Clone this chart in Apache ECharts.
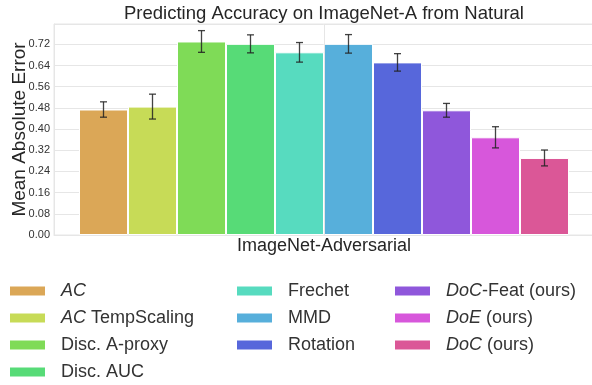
<!DOCTYPE html>
<html>
<head>
<meta charset="utf-8">
<script src="https://cdn.jsdelivr.net/npm/echarts@6/dist/echarts.min.js"></script>
<style>
  html, body { margin: 0; padding: 0; background: #ffffff; }
  #chart { width: 592px; height: 385px; }
</style>
</head>
<body>
<div id="chart"></div>
<script>
// Mean absolute error of each accuracy predictor on ImageNet-A (trained on natural images)
const category = ['ImageNet-Adversarial'];
const methods = ['AC', 'AC TempScaling', 'Disc. A-proxy', 'Disc. AUC', 'Frechet',
                 'MMD', 'Rotation', 'DoC-Feat (ours)', 'DoE (ours)', 'DoC (ours)'];
const meanError = [0.474, 0.485, 0.731, 0.722, 0.690, 0.722, 0.652, 0.471, 0.369, 0.291];
const errorSpread = [0.029, 0.047, 0.041, 0.034, 0.037, 0.035, 0.033, 0.026, 0.040, 0.030];
const colors = ['#dba757', '#c7db57', '#7fdb57', '#57db77', '#57dbbf',
                '#57afdb', '#5767db', '#8f57db', '#d757db', '#db5797'];
const yTicks = [0.00, 0.08, 0.16, 0.24, 0.32, 0.40, 0.48, 0.56, 0.64, 0.72];

// legend labels with the italic method names
const legendLabels = {
  'AC': '{i|AC}',
  'AC TempScaling': '{i|AC} TempScaling',
  'DoC-Feat (ours)': '{i|DoC}-Feat (ours)',
  'DoE (ours)': '{i|DoE} (ours)',
  'DoC (ours)': '{i|DoC} (ours)'
};

const FONT = '"Liberation Sans", Arial, sans-serif';
const BAR_W = 49;
const GRID = '#e6e6e6';

const chart = echarts.init(document.getElementById('chart'));

const barSeries = methods.map((name, i) => ({
  name: name,
  type: 'bar',
  barWidth: BAR_W,
  barGap: '0%',
  z: 2,
  itemStyle: { color: colors[i], borderColor: '#ffffff', borderWidth: 1 },
  data: [meanError[i]]
}));

const errorData = meanError.map((m, i) => [0, m - errorSpread[i], m + errorSpread[i], i]);

function legendBlock(names, left) {
  return {
    data: names,
    orient: 'vertical',
    left: left,
    top: 282,
    bottom: -60,
    padding: 0,
    itemWidth: 37,
    itemHeight: 11,
    itemGap: 9,
    icon: 'rect',
    selectedMode: false,
    formatter: n => legendLabels[n] || n,
    textStyle: {
      fontFamily: FONT, fontSize: 18, lineHeight: 18, color: '#333333',
      padding: [0, 0, 0, 10],
      rich: { i: { fontFamily: FONT, fontSize: 18, lineHeight: 18, fontStyle: 'italic', color: '#333333' } }
    }
  };
}

chart.setOption({
  animation: false,
  backgroundColor: '#ffffff',
  title: {
    text: 'Predicting Accuracy on ImageNet-A from Natural',
    left: 324, top: 4, textAlign: 'center', padding: 0,
    textStyle: { fontFamily: FONT, fontSize: 18.5, fontWeight: 'normal', color: '#262626' }
  },
  legend: [
    legendBlock(methods.slice(0, 4), 8),
    legendBlock(methods.slice(4, 7), 235),
    legendBlock(methods.slice(7), 393)
  ],
  grid: {
    left: 54, top: 24, width: 540, height: 211,
    outerBoundsMode: 'none',
    containLabel: false,
    show: true, borderColor: GRID, borderWidth: 1
  },
  xAxis: {
    type: 'category',
    data: category,
    name: category[0],
    nameLocation: 'middle',
    nameGap: 2,
    nameMoveOverlap: false,
    nameTextStyle: { fontFamily: FONT, fontSize: 18, color: '#262626', verticalAlign: 'top' },
    axisLine: { show: true, lineStyle: { color: GRID } },
    axisTick: { show: false },
    axisLabel: { show: false },
    splitLine: { show: false }
  },
  yAxis: {
    type: 'value',
    min: 0,
    max: 0.797,
    interval: 0.08,
    name: 'Mean Absolute Error',
    nameLocation: 'middle',
    nameGap: 25,
    nameMoveOverlap: false,
    nameTextStyle: { fontFamily: FONT, fontSize: 19, color: '#262626' },
    axisLine: { show: true, lineStyle: { color: GRID } },
    axisTick: { show: false },
    axisLabel: {
      showMaxLabel: false,
      margin: 4,
      fontFamily: FONT, fontSize: 11, color: '#333333',
      formatter: v => (yTicks.some(t => Math.abs(t - v) < 1e-6) ? v.toFixed(2) : '')
    },
    splitLine: { show: true, lineStyle: { color: GRID, width: 1 } }
  },
  series: [
    {
      // vertical grid line at the category tick
      type: 'line',
      data: [],
      z: 1,
      silent: true,
      markLine: {
        silent: true,
        symbol: 'none',
        label: { show: false },
        lineStyle: { color: GRID, type: 'solid', width: 1 },
        data: [{ xAxis: category[0] }]
      }
    },
    ...barSeries,
    {
      type: 'custom',
      z: 5,
      silent: true,
      data: errorData,
      encode: { x: 0, y: [1, 2] },
      renderItem: function (params, api) {
        const idx = api.value(3);
        const lo = api.coord([api.value(0), api.value(1)]);
        const hi = api.coord([api.value(0), api.value(2)]);
        const x = lo[0] + (idx - 4.5) * BAR_W;
        const cap = 3.5;
        const style = { stroke: '#222222', lineWidth: 1.3, opacity: 0.85 };
        return {
          type: 'group',
          children: [
            { type: 'line', shape: { x1: x, y1: lo[1], x2: x, y2: hi[1] }, style: style },
            { type: 'line', shape: { x1: x - cap, y1: lo[1], x2: x + cap, y2: lo[1] }, style: style },
            { type: 'line', shape: { x1: x - cap, y1: hi[1], x2: x + cap, y2: hi[1] }, style: style }
          ]
        };
      }
    }
  ]
});
</script>
</body>
</html>
